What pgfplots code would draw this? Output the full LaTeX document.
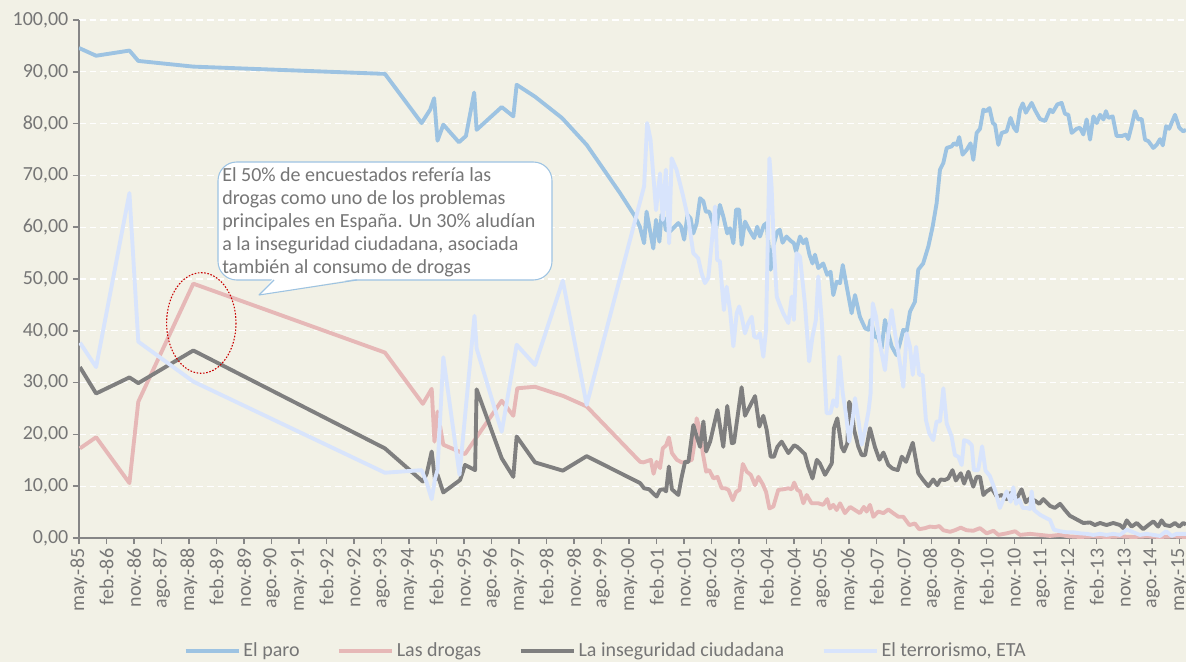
\documentclass[border=0pt]{standalone}
\usepackage{fontspec}
\setmainfont{Carlito}
\usepackage{pgfplots}
\pgfplotsset{compat=1.18}
\definecolor{bg}{RGB}{242,241,230}
\definecolor{paro}{RGB}{157,195,226}
\definecolor{drogas}{RGB}{230,184,183}
\definecolor{inseg}{RGB}{127,127,127}
\definecolor{terror}{RGB}{216,228,252}
\definecolor{txt}{RGB}{118,118,118}
\definecolor{axisc}{RGB}{134,134,134}
\definecolor{ell}{RGB}{200,0,0}
\newcommand\f{\fontsize{15}{17.25}\selectfont}
\begin{document}
\begin{tikzpicture}[x=1pt,y=1pt]
\fill[bg] (0,0) rectangle (889.5,496.5);
\path[use as bounding box] (0,0) rectangle (889.5,496.5);
\begin{axis}[
  at={(59.25pt,93pt)}, anchor=south west,
  scale only axis, width=830.25pt, height=388.5pt,
  xmin=0, xmax=362.2, ymin=0, ymax=100,
  axis x line*=bottom, axis y line*=left,
  axis line style={axisc, line width=1.1pt, -},
  tick align=outside, major tick length=4.5pt,
  tick style={axisc, line width=1.1pt},
  xtick={0,9,...,360},
  xticklabels={may.-85,feb.-86,nov.-86,ago.-87,may.-88,feb.-89,nov.-89,ago.-90,may.-91,feb.-92,nov.-92,ago.-93,may.-94,feb.-95,nov.-95,ago.-96,may.-97,feb.-98,nov.-98,ago.-99,may.-00,feb.-01,nov.-01,ago.-02,may.-03,feb.-04,nov.-04,ago.-05,may.-06,feb.-07,nov.-07,ago.-08,may.-09,feb.-10,nov.-10,ago.-11,may.-12,feb.-13,nov.-13,ago.-14,may.-15},
  xticklabel style={rotate=90, anchor=east, font=\f, text=txt},
  ytick={0,10,...,100},
  yticklabel style={font=\f, text=txt},
  /pgf/number format/.cd, fixed, fixed zerofill, precision=2, use comma, 1000 sep={}, assume math mode=true,
  /pgfplots/.cd,
  ymajorgrids, major grid style={white, line width=1pt, dash pattern=on 5pt off 3pt},
  legend style={at={(0.476,-0.218)}, anchor=center, draw=none, fill=none, legend columns=4, font=\f, text=txt, /tikz/every even column/.append style={column sep=26pt}},
  legend image code/.code={\draw[#1] (0pt,0pt) -- (40pt,0pt);},
  every axis plot/.append style={line width=2.9pt, line join=round, mark=none},
]
\addplot[paro] coordinates {(0,94.6) (5.6,93.1) (16.5,94.1) (19.4,92.1) (37.4,91.0) (100.1,89.6) (112.1,80.1) (114.9,82.7) (116.2,84.9) (117.3,76.7) (119.2,79.8) (124.3,76.4) (126.6,77.6) (129.3,86.0) (130.1,78.8) (138.3,83.2) (142.1,81.4) (143.2,87.5) (149.2,85.2) (158.0,81.1) (166.1,75.9) (177.0,66.6) (181.9,62.1) (183.5,60.1) (184.9,56.9) (185.7,63.0) (186.6,60.1) (187.9,55.9) (188.8,61.4) (189.9,57.2) (190.6,62.4) (191.4,61.7) (192.0,59.5) (193.4,59.2) (194.4,59.8) (196.1,60.8) (197.0,60.1) (198.0,57.6) (199.1,62.4) (200.1,61.7) (201.0,58.8) (202.1,60.8) (203.2,65.6) (204.3,65.0) (205.1,63.0) (206.2,63.0) (207.1,61.4) (208.2,58.8) (209.7,64.3) (210.8,62.1) (212.1,58.8) (213.0,59.8) (214.1,56.9) (215.0,63.4) (216.0,63.4) (216.8,56.6) (217.9,61.1) (219.3,59.5) (220.9,57.9) (221.9,60.1) (222.8,58.2) (224.1,60.4) (225.0,60.8) (226.3,51.8) (227.4,56.9) (228.5,59.2) (229.3,59.5) (230.2,57.0) (231.5,58.2) (232.8,57.4) (233.9,56.9) (234.6,55.3) (235.9,58.2) (237.0,56.9) (237.9,57.7) (239.0,54.7) (240.0,53.0) (240.8,54.7) (241.9,52.1) (243.5,53.0) (244.8,50.8) (245.9,51.4) (246.8,46.9) (247.9,49.5) (249.0,49.2) (249.9,52.7) (251.2,48.5) (252.8,43.4) (253.9,46.9) (255.5,42.7) (257.2,40.5) (258.3,40.2) (259.0,42.1) (260.4,38.9) (261.5,38.6) (262.6,36.6) (263.7,42.1) (264.8,39.5) (265.9,37.0) (267.5,35.3) (268.6,37.6) (269.7,40.2) (270.8,39.9) (271.9,43.7) (273.5,45.6) (274.6,51.8) (276.2,53.0) (277.9,56.3) (279.3,60.1) (280.6,64.6) (281.7,71.1) (282.8,72.4) (283.9,75.3) (285.5,75.6) (286.3,76.2) (287.2,75.9) (288.0,77.4) (289.1,74.0) (290.4,74.9) (291.7,76.2) (292.6,73.0) (293.7,78.2) (294.8,79.0) (295.9,82.7) (296.8,82.4) (297.9,83.0) (299.0,80.1) (299.7,79.8) (300.8,75.9) (301.9,78.2) (303.5,78.5) (304.8,81.1) (305.9,79.2) (306.8,78.5) (307.9,82.7) (308.8,83.9) (309.8,82.1) (311.7,84.0) (312.8,82.6) (314.4,80.9) (316.1,80.5) (317.7,82.7) (318.6,82.2) (320.1,83.7) (321.5,84.0) (322.6,81.9) (323.7,81.7) (324.8,78.2) (326.4,79.0) (327.5,79.2) (328.6,77.9) (329.7,80.8) (330.8,76.9) (331.9,81.4) (333.0,80.1) (334.1,81.7) (335.2,80.8) (336.0,82.4) (336.8,81.1) (338.2,81.4) (339.5,77.6) (341.2,77.6) (342.6,77.9) (343.3,77.0) (344.4,79.5) (345.5,82.4) (346.6,80.8) (347.7,80.9) (348.8,76.9) (349.9,76.6) (351.5,75.3) (352.6,75.9) (353.7,77.0) (354.6,75.8) (355.7,79.5) (356.7,79.0) (358.6,81.7) (360.0,79.2) (361.3,78.5) (362.2,78.8)};
\addlegendentry{El paro}
\addplot[drogas] coordinates {(0.3,17.3) (5.6,19.45) (16.5,10.6) (19.4,26.3) (37.4,49.1) (100.1,35.8) (112.5,25.9) (115.4,28.8) (116.3,18.6) (117.3,24.4) (119.2,18.0) (126.3,16.2) (138.3,26.5) (142.1,23.6) (143.4,28.9) (149.2,29.2) (158.5,27.4) (166.1,25.4) (183.6,14.7) (184.7,14.6) (187.1,15.1) (188.0,12.4) (189.0,14.7) (190.1,13.5) (191.0,17.3) (192.1,17.9) (193.0,19.4) (194.0,16.4) (195.6,15.1) (197.2,14.6) (198.8,14.7) (200.5,15.1) (201.2,17.6) (202.1,23.1) (203.0,21.2) (204.1,16.4) (205.2,12.8) (206.2,13.1) (207.6,11.5) (208.9,11.8) (210.3,9.6) (211.4,9.6) (212.5,9.3) (213.9,7.3) (215.0,8.9) (216.1,9.3) (217.2,14.3) (218.5,12.8) (219.8,12.2) (221.2,10.2) (222.3,11.8) (223.7,10.4) (224.8,8.9) (225.9,5.7) (227.2,6.1) (228.8,9.3) (230.4,9.4) (232.1,9.6) (233.2,9.4) (234.0,10.7) (235.0,9.3) (235.9,9.0) (237.0,6.7) (238.1,8.3) (239.7,6.7) (241.9,6.7) (243.5,6.4) (244.8,7.5) (245.7,5.7) (246.8,6.4) (247.9,5.4) (249.0,6.7) (250.6,4.8) (252.3,6.0) (253.9,5.4) (255.5,4.8) (256.8,6.0) (257.7,5.1) (258.8,6.4) (259.9,4.1) (261.5,5.1) (263.2,4.8) (264.8,5.5) (266.4,4.8) (268.1,4.1) (269.7,4.1) (271.7,2.5) (273.5,2.8) (274.9,1.7) (276.8,1.9) (278.4,2.2) (280.1,2.1) (281.5,2.3) (282.8,1.5) (285.0,1.2) (286.6,1.5) (288.5,2.0) (290.4,1.5) (292.6,1.4) (294.8,1.9) (297.0,0.9) (299.2,1.4) (300.8,0.6) (303.5,0.9) (306.3,1.3) (307.9,0.6) (311.2,0.8) (314.4,0.6) (317.7,0.4) (321.0,0.6) (324.2,0.3) (327.5,0.2) (331.9,0.3) (336.2,0.2) (340.6,0.3) (345.0,0.2) (349.3,0.3) (353.7,0.2) (358.0,0.3) (362.2,0.2)};
\addlegendentry{Las drogas}
\addplot[inseg] coordinates {(0.3,33.0) (5.6,27.9) (16.5,31.0) (19.4,29.9) (37.4,36.2) (100.1,17.3) (112.5,10.9) (113.8,12.5) (115.4,16.7) (116.5,11.2) (117.3,12.2) (119.2,8.8) (124.7,11.2) (126.3,14.1) (129.6,13.1) (130.1,28.7) (138.3,15.4) (142.1,11.8) (143.2,19.6) (149.2,14.6) (158.3,13.0) (166.1,15.8) (183.6,10.6) (184.9,9.6) (186.6,9.4) (187.9,8.6) (189.0,8.0) (190.1,9.3) (191.4,9.4) (192.1,9.0) (193.0,13.8) (194.0,9.4) (196.1,8.3) (197.2,11.8) (198.3,14.7) (199.4,14.7) (201.0,21.8) (202.1,19.6) (203.2,17.6) (204.3,22.5) (205.2,16.7) (206.5,18.6) (208.9,24.7) (210.8,17.6) (212.1,25.5) (213.6,18.3) (214.3,18.4) (216.8,29.1) (217.9,23.6) (221.2,27.4) (222.6,21.5) (223.9,23.6) (225.0,20.9) (226.3,15.7) (227.4,15.7) (228.5,17.6) (229.9,18.6) (232.1,16.4) (234.0,17.9) (235.0,17.6) (235.9,17.1) (237.5,16.2) (238.6,13.8) (240.0,11.5) (241.4,15.1) (242.4,14.4) (244.1,12.2) (246.3,14.4) (247.0,21.2) (248.1,23.1) (249.5,17.6) (250.3,16.7) (251.4,18.3) (252.0,26.3) (252.8,25.0) (253.6,20.9) (255.0,17.6) (256.1,16.0) (257.2,16.0) (258.8,21.2) (260.4,17.6) (261.9,15.1) (263.2,16.5) (264.8,14.1) (266.2,13.4) (267.9,13.1) (269.2,15.7) (270.6,14.7) (272.8,18.4) (274.6,12.5) (276.2,11.2) (277.9,10.0) (279.5,11.3) (280.8,10.2) (281.9,11.3) (283.3,11.2) (284.4,11.5) (285.8,13.1) (286.9,11.1) (288.5,12.5) (289.6,10.5) (291.0,12.8) (292.6,9.9) (293.7,11.8) (294.8,11.8) (295.9,8.3) (297.0,9.0) (298.6,9.6) (300.3,8.0) (301.9,8.3) (303.5,7.5) (304.8,8.7) (306.6,7.4) (308.4,9.4) (309.8,6.9) (311.2,7.7) (312.8,7.2) (314.2,6.6) (315.5,7.5) (317.7,6.2) (319.3,5.8) (321.0,6.6) (322.6,5.4) (324.2,4.3) (326.4,3.6) (328.6,2.9) (330.8,3.0) (332.4,2.5) (334.1,2.9) (336.2,2.5) (338.4,2.9) (340.6,2.5) (341.7,1.9) (342.8,3.4) (344.4,2.2) (346.1,2.9) (348.2,1.7) (349.9,2.5) (351.5,3.2) (353.1,2.2) (354.2,3.4) (355.3,2.5) (357.0,2.3) (358.6,2.9) (360.0,2.2) (361.3,2.9) (362.2,2.6)};
\addlegendentry{La inseguridad ciudadana}
\addplot[terror] coordinates {(0.3,37.7) (5.6,33.0) (16.5,66.6) (19.4,37.9) (37.4,30.2) (100.1,12.6) (112.1,13.1) (113.8,10.6) (115.4,7.5) (116.5,11.5) (117.3,13.1) (119.2,34.9) (124.5,12.2) (129.4,42.9) (130.1,36.6) (138.3,20.5) (143.2,37.3) (149.2,33.4) (158.3,49.7) (166.1,25.7) (184.9,67.9) (185.9,80.1) (187.0,76.9) (188.8,63.3) (190.1,70.4) (191.0,61.4) (192.0,71.1) (193.1,56.9) (193.9,73.3) (195.5,71.1) (197.7,65.9) (199.4,61.4) (201.0,55.0) (202.6,54.0) (203.7,51.1) (204.8,49.2) (205.9,50.2) (207.0,56.9) (208.1,64.0) (208.8,53.7) (209.7,53.4) (211.0,44.0) (211.9,48.5) (213.0,44.0) (214.1,37.0) (215.2,43.4) (216.0,44.7) (216.8,42.8) (217.9,39.5) (219.0,41.5) (220.1,42.7) (220.9,38.9) (221.9,38.6) (222.8,39.5) (223.9,35.0) (224.8,40.2) (225.2,52.4) (225.9,73.3) (226.6,67.9) (227.4,55.6) (228.3,46.6) (229.1,45.3) (230.4,43.4) (232.1,41.5) (233.2,46.6) (233.9,42.1) (234.8,55.0) (235.9,54.3) (237.5,45.3) (238.9,34.1) (240.0,38.9) (241.1,42.1) (241.9,50.5) (243.0,42.1) (244.6,24.1) (245.9,24.1) (246.8,26.6) (247.9,25.4) (248.8,35.0) (249.9,27.9) (250.9,24.1) (252.0,18.6) (253.1,22.8) (253.9,27.0) (255.0,22.8) (256.1,18.0) (257.2,20.9) (258.3,24.4) (259.0,27.9) (259.7,45.3) (260.8,42.7) (262.1,37.3) (263.7,32.4) (264.8,39.5) (265.9,44.0) (267.0,39.5) (268.1,35.7) (269.7,29.2) (270.8,39.5) (271.9,36.9) (272.8,31.5) (273.9,36.9) (274.9,31.5) (276.0,31.5) (277.1,22.8) (278.2,20.2) (279.5,18.9) (280.6,22.5) (281.7,22.5) (282.8,28.9) (283.9,22.1) (285.5,19.6) (286.6,16.0) (287.7,15.7) (288.8,14.1) (289.6,18.9) (291.0,18.6) (292.1,17.9) (292.8,13.1) (294.2,13.1) (295.5,17.7) (296.6,13.0) (298.0,12.0) (299.7,9.3) (301.3,5.8) (302.4,7.4) (303.5,9.0) (304.8,7.0) (305.7,9.8) (306.6,6.6) (307.7,7.4) (308.8,5.8) (310.1,5.8) (311.2,5.6) (311.7,9.0) (312.5,5.4) (314.4,4.5) (316.6,3.8) (317.7,3.5) (319.0,1.6) (321.0,1.3) (323.2,1.1) (325.3,1.1) (327.5,0.9) (329.7,0.8) (331.9,0.6) (334.1,0.8) (336.2,0.6) (338.4,0.8) (340.6,0.6) (342.8,1.6) (345.0,1.1) (347.1,0.6) (349.3,0.8) (351.5,0.6) (353.7,0.4) (355.7,1.3) (357.5,0.4) (359.1,0.8) (361.3,0.8) (362.2,0.8)};
\addlegendentry{El terrorismo, ETA}
\end{axis}
\begin{scope}[x=0.75pt, y=-0.75pt, shift={(0pt,496.5pt)}]
  \draw[paro, fill=white, line width=0.8pt, rounded corners=14] (218,162) rectangle (552,280);
  \fill[white] (273,278.5) -- (259,295) -- (358,278.5) -- cycle;
  \draw[paro, line width=0.8pt, line join=round] (274,280) -- (259,295) -- (357,280);
  \node[anchor=north west, align=left, font=\f, text=txt, inner sep=0pt] at (222,167)
    {El 50\% de encuestados refería las\\drogas como uno de los problemas\\principales en España. Un 30\% aludían\\a la inseguridad ciudadana, asociada\\también al consumo de drogas};
  \draw[ell, line width=0.8pt, dash pattern=on 1.2pt off 1.2pt] (201.3,323) ellipse [x radius=34.7, y radius=50.3];
\end{scope}
\end{tikzpicture}
\end{document}
